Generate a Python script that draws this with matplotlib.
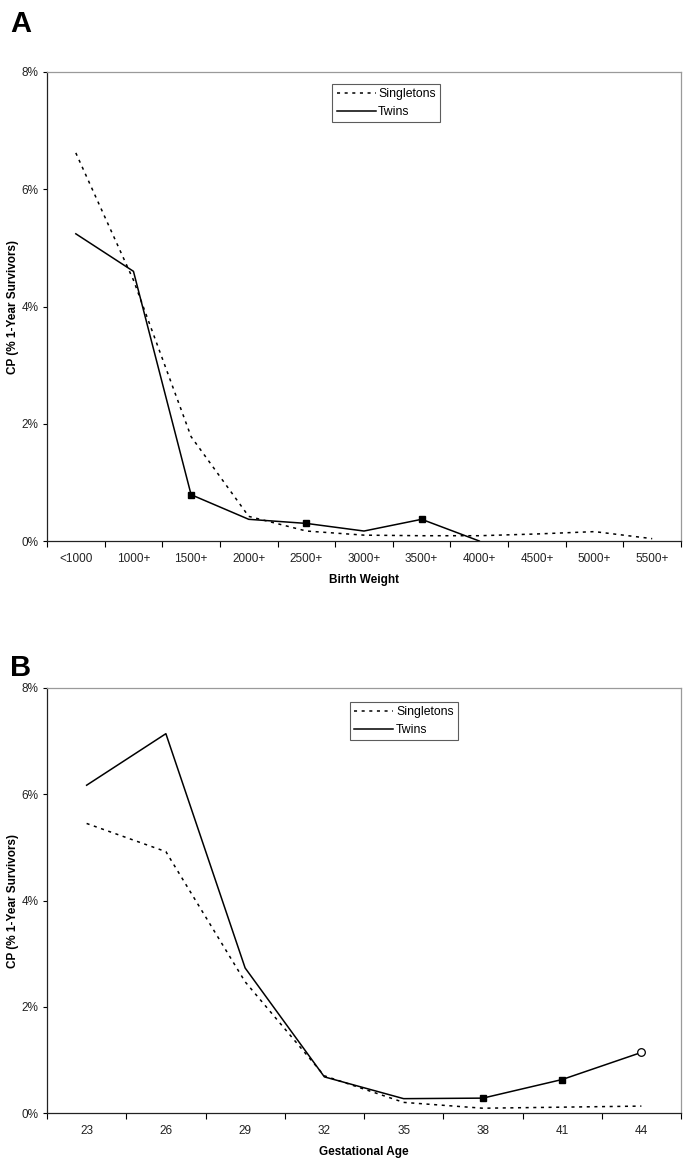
import matplotlib

matplotlib.use("Agg")
import matplotlib.pyplot as plt
import numpy as np

plt.rcParams["font.family"] = ["Liberation Sans", "DejaVu Sans"]

# Panel A: birth weight
bw_labels = ["<1000", "1000+", "1500+", "2000+", "2500+", "3000+",
             "3500+", "4000+", "4500+", "5000+", "5500+"]
bw_single = [6.62, 4.45, 1.78, 0.42, 0.17, 0.10, 0.09, 0.09, 0.12, 0.16, 0.04]
bw_twins = [5.24, 4.60, 0.79, 0.37, 0.30, 0.17, 0.37, 0.0]
bw_twin_sq = [2, 4, 6]          # filled square markers
bw_twin_circ = []                # open circle markers

# Panel B: gestational age
ga_labels = ["23", "26", "29", "32", "35", "38", "41", "44"]
ga_single = [5.45, 4.92, 2.47, 0.70, 0.20, 0.09, 0.11, 0.13]
ga_twins = [6.17, 7.14, 2.73, 0.68, 0.27, 0.28, 0.63, 1.14]
ga_twin_sq = [5, 6]
ga_twin_circ = [7]

W, H = 685, 1161
fig = plt.figure(figsize=(W / 100, H / 100), dpi=100, facecolor="white")


def panel(rect, labels, single, twins, sq, circ, xlabel, letter, letter_y, leg_anchor):
    ax = fig.add_axes(rect)
    n = len(labels)
    x = np.arange(n)
    ax.plot(x[:len(single)], single, color="black", lw=1.1,
            linestyle=(0, (2, 3)), label="Singletons")
    ax.plot(x[:len(twins)], twins, color="black", lw=1.1, label="Twins")
    tw = np.array(twins)
    if sq:
        ax.plot(x[sq], tw[sq], linestyle="none", marker="s", ms=5,
                color="black")
    if circ:
        ax.plot(x[circ], tw[circ], linestyle="none", marker="o", ms=5.5,
                mfc="white", mec="black", mew=0.9)

    ax.set_xlim(-0.5, n - 0.5)
    ax.set_ylim(0, 8)
    ax.set_xticks(x)
    ax.set_xticklabels(labels)
    ax.set_xticks(np.arange(-0.5, n), minor=True)
    ax.tick_params(axis="x", which="major", length=0, pad=9, labelsize=8.5)
    ax.tick_params(axis="x", which="minor", length=4, width=0.8, direction="out")
    ax.set_yticks([0, 2, 4, 6, 8])
    ax.set_yticklabels([f"{v}%" for v in [0, 2, 4, 6, 8]])
    ax.tick_params(axis="y", length=3, width=0.8, direction="out",
                   pad=3, labelsize=8.5, labelcolor="#222222")
    ax.tick_params(axis="x", labelcolor="#222222")

    for s in ["top", "right"]:
        ax.spines[s].set_color("#9a9a9a")
        ax.spines[s].set_linewidth(0.9)
    for s in ["left", "bottom"]:
        ax.spines[s].set_color("#222222")
        ax.spines[s].set_linewidth(0.9)

    ax.set_xlabel(xlabel, fontsize=8.5, weight="bold", labelpad=6)
    ax.set_ylabel("CP (% 1-Year Survivors)", fontsize=8.5, weight="bold",
                  labelpad=2)

    leg = ax.legend(loc="upper center", bbox_to_anchor=leg_anchor,
                    frameon=True, fancybox=False, fontsize=8.8,
                    handlelength=3.2, handletextpad=0.2,
                    borderpad=0.35, labelspacing=0.45, borderaxespad=0)
    leg.get_frame().set_edgecolor("#333333")
    leg.get_frame().set_linewidth(0.8)

    fig.text(10 / W, letter_y, letter, fontsize=21, weight="bold",
             ha="left", va="baseline")
    return ax


panel([47 / W, 1 - 541 / H, 634 / W, 469 / H], bw_labels, bw_single,
      bw_twins, bw_twin_sq, bw_twin_circ, "Birth Weight", "A",
      1 - 32 / H, (0.535, 0.974))
panel([47 / W, 1 - 1113 / H, 634 / W, 425 / H], ga_labels, ga_single,
      ga_twins, ga_twin_sq, ga_twin_circ, "Gestational Age", "B",
      1 - 676 / H, (0.563, 0.967))

fig.savefig("out.png", dpi=100, facecolor="white")
